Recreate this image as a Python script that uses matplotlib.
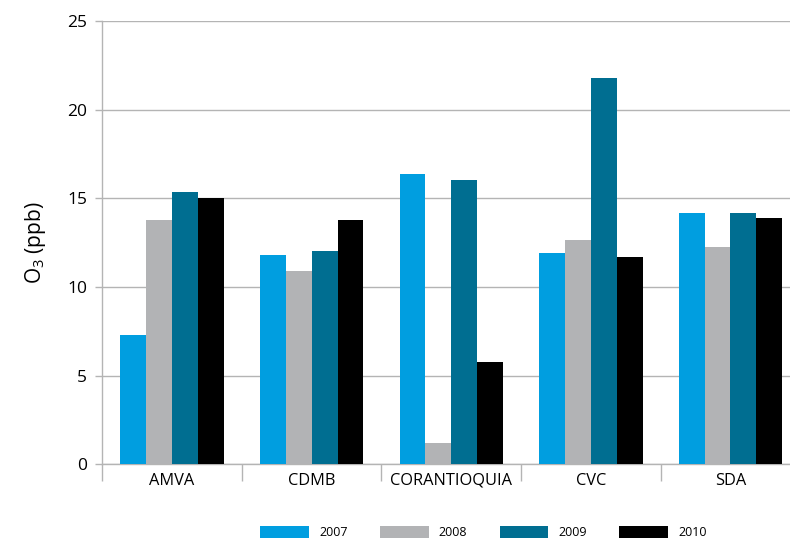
import numpy as np
import matplotlib
matplotlib.use("Agg")
import matplotlib.pyplot as plt

plt.rcParams["font.family"] = ["Open Sans", "DejaVu Sans"]
plt.rcParams["mathtext.fontset"] = "custom"
plt.rcParams["mathtext.rm"] = "Open Sans"

agencies = ["AMVA", "CDMB", "CORANTIOQUIA", "CVC", "SDA"]
years = ["2007", "2008", "2009", "2010"]
o3_2007 = [7.3, 11.8, 16.4, 11.9, 14.2]
o3_2008 = [13.8, 10.9, 1.2, 12.65, 12.25]
o3_2009 = [15.35, 12.05, 16.05, 21.8, 14.2]
o3_2010 = [15.0, 13.8, 5.8, 11.7, 13.9]
colors = ["#009ee0", "#b2b3b5", "#006e91", "#000000"]

series = [o3_2007, o3_2008, o3_2009, o3_2010]
grid_col = "#b4b4b4"

fig = plt.figure(figsize=(7.9, 5.42), dpi=100)
ax = fig.add_axes([0.1295, 0.143, 0.8835, 0.818])

x = np.arange(len(agencies))
w = 0.185
for i, (vals, yr) in enumerate(zip(series, years)):
    ax.bar(x + (i - 1.5) * w, vals, width=w, color=colors[i], label=yr, zorder=3)

ax.set_xlim(-0.5, len(agencies) - 0.5)
ax.set_ylim(0, 25)
ax.set_yticks(np.arange(0, 26, 5))
ax.yaxis.grid(True, color=grid_col, linewidth=1.0, zorder=0)
ax.set_axisbelow(True)

ax.set_xticks(x)
ax.set_xticklabels(agencies, fontsize=11.8)
ax.tick_params(axis="x", which="major", length=0, pad=6)
ax.set_xticks(np.arange(-0.5, len(agencies), 1), minor=True)
ax.tick_params(axis="x", which="minor", length=12, color=grid_col, width=1.0)
ax.tick_params(axis="y", length=5, color=grid_col, width=1.0, labelsize=12.5, pad=6)

for side in ["top", "right"]:
    ax.spines[side].set_visible(False)
for side in ["left", "bottom"]:
    ax.spines[side].set_color(grid_col)
    ax.spines[side].set_linewidth(1.0)

ax.set_ylabel("O$_\\mathregular{3}$ (ppb)", fontsize=15, labelpad=14)

fig.legend(loc="center", bbox_to_anchor=(0.612, 0.017), ncol=4, frameon=False,
           fontsize=9, handlelength=3.9, handleheight=1.1, handletextpad=0.8,
           columnspacing=2.6)

fig.savefig("out.png", dpi=100)
